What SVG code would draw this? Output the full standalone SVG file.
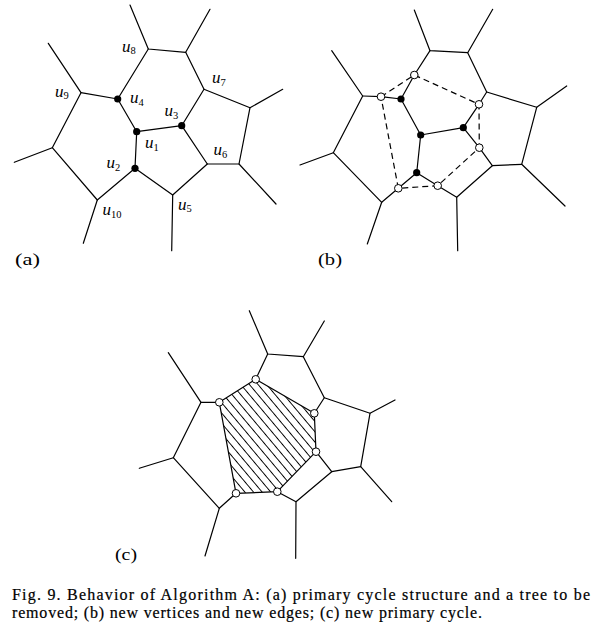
<svg xmlns="http://www.w3.org/2000/svg" width="595" height="634" viewBox="0 0 595 634">
<style>
.e{stroke:#000;stroke-width:1.2;fill:none;stroke-linecap:round;stroke-linejoin:round}
.d{stroke-dasharray:6 4;stroke-linecap:butt}
.bk{fill:#000}
.wh{fill:#fff;stroke:#000;stroke-width:1}
.lb{font-family:"Liberation Serif",serif;font-style:italic;font-size:17px;fill:#000}
.sb{font-style:normal;font-size:10.5px}
.pl{font-family:"Liberation Serif",serif;font-size:16px;fill:#000}
.cap{font-family:"Liberation Serif",serif;font-size:16px;fill:#000;stroke:#000;stroke-width:0.2}
</style>
<defs>
<pattern id="hatch" patternUnits="userSpaceOnUse" width="6.6" height="6.6" patternTransform="rotate(50)">
<line x1="-1" y1="3.3" x2="8" y2="3.3" stroke="#000" stroke-width="1"/>
</pattern>
</defs>
<rect width="595" height="634" fill="#fff"/>

<!-- Panel (a) -->
<g id="panel-a">
<g id="a-connectors">
<path class="e" d="M130,5 L148.3,49 L185.7,52.3 L210,9.3"/>
<path class="e" d="M148.3,49 L117.7,99 L136.7,131.7 L181.7,125.7 L204,89.3 L185.7,52.3"/>
<path class="e" d="M204,89.3 L250,107.7 L282.7,89.3"/>
<path class="e" d="M250,107.7 L239,164 L276,204"/>
<path class="e" d="M239,164 L207.3,164 L181.7,125.7"/>
<path class="e" d="M207.3,164 L172.7,195 L171.7,250.7"/>
<path class="e" d="M172.7,195 L135,168.3 L136.7,131.7"/>
<path class="e" d="M135,168.3 L97.3,200 L83.3,243.3"/>
<path class="e" d="M97.3,200 L52.3,147.7 L14.3,162.3"/>
<path class="e" d="M52.3,147.7 L81,92.7 L48.3,43.3"/>
<path class="e" d="M81,92.7 L117.7,99"/>
</g>
<g id="a-u4"><circle class="bk" cx="117.7" cy="99" r="3.6"/><text class="lb" x="130" y="103">u<tspan class="sb" dy="2.5">4</tspan></text></g>
<g id="a-u1"><circle class="bk" cx="136.7" cy="131.7" r="3.6"/><text class="lb" x="145" y="148">u<tspan class="sb" dy="2.5">1</tspan></text></g>
<g id="a-u3"><circle class="bk" cx="181.7" cy="125.7" r="3.6"/><text class="lb" x="164.5" y="116">u<tspan class="sb" dy="2.5">3</tspan></text></g>
<g id="a-u2"><circle class="bk" cx="135" cy="168.3" r="3.6"/><text class="lb" x="106.5" y="168">u<tspan class="sb" dy="2.5">2</tspan></text></g>
<g id="a-u5"><text class="lb" x="178" y="209.5">u<tspan class="sb" dy="2.5">5</tspan></text></g>
<g id="a-u6"><text class="lb" x="213.5" y="155">u<tspan class="sb" dy="2.5">6</tspan></text></g>
<g id="a-u7"><text class="lb" x="212" y="83">u<tspan class="sb" dy="2.5">7</tspan></text></g>
<g id="a-u8"><text class="lb" x="122" y="51.5">u<tspan class="sb" dy="2.5">8</tspan></text></g>
<g id="a-u9"><text class="lb" x="55" y="96.5">u<tspan class="sb" dy="2.5">9</tspan></text></g>
<g id="a-u10"><text class="lb" x="102.5" y="215">u<tspan class="sb" dy="2.5">10</tspan></text></g>
<text class="pl" x="15" y="265" textLength="25" lengthAdjust="spacingAndGlyphs">(a)</text>
</g>

<!-- Panel (b) -->
<g id="panel-b">
<g id="b-connectors">
<path class="e" d="M414.3,10 L430,50.7 L467.7,52.7 L492.7,9.3"/>
<path class="e" d="M430,50.7 L414.3,75 L401,99 L420.7,135 L463.3,127.7 L479,104.3 L486.7,92 L467.7,52.7"/>
<path class="e" d="M486.7,92 L536.7,107.3 L566.7,86"/>
<path class="e" d="M536.7,107.3 L521.7,164.3 L565,206"/>
<path class="e" d="M521.7,164.3 L492.3,165.7 L479.3,147.7 L463.3,127.7"/>
<path class="e" d="M492.3,165.7 L456.7,197.3 L457.7,250.7"/>
<path class="e" d="M456.7,197.3 L437.7,185.7 L416.7,172.7 L420.7,135"/>
<path class="e" d="M416.7,172.7 L398.3,188.3 L381.7,202.3 L367.3,244"/>
<path class="e" d="M381.7,202.3 L333.3,152.7 L300,165"/>
<path class="e" d="M333.3,152.7 L362.7,96 L331.7,50.7"/>
<path class="e" d="M362.7,96 L381,96.7 L401,99"/>
<path class="e d" d="M381,96.7 L414.3,75 L479,104.3 L479.3,147.7 L437.7,185.7 L398.3,188.3 Z"/>
</g>
<g id="b-u4"><circle class="bk" cx="401" cy="99" r="3.6"/></g>
<g id="b-u1"><circle class="bk" cx="420.7" cy="135" r="3.6"/></g>
<g id="b-u3"><circle class="bk" cx="463.3" cy="127.7" r="3.6"/></g>
<g id="b-u2"><circle class="bk" cx="416.7" cy="172.7" r="3.6"/></g>
<g id="b-w1"><circle class="wh" cx="381" cy="96.7" r="3.8"/></g>
<g id="b-w2"><circle class="wh" cx="414.3" cy="75" r="3.8"/></g>
<g id="b-w3"><circle class="wh" cx="479" cy="104.3" r="3.8"/></g>
<g id="b-w4"><circle class="wh" cx="479.3" cy="147.7" r="3.8"/></g>
<g id="b-w5"><circle class="wh" cx="437.7" cy="185.7" r="3.8"/></g>
<g id="b-w6"><circle class="wh" cx="398.3" cy="188.3" r="3.8"/></g>
<text class="pl" x="318" y="265" textLength="24" lengthAdjust="spacingAndGlyphs">(b)</text>
</g>

<!-- Panel (c) -->
<g id="panel-c">
<g id="c-connectors">
<polygon points="219.3,402.3 255.7,379.3 314.3,413.3 316,451.7 277.3,491.7 236,493.3" fill="url(#hatch)" stroke="#000" stroke-width="1.2" stroke-linejoin="round"/>
<path class="e" d="M249.3,310.7 L267.7,354 L303.3,356.7 L324.3,321"/>
<path class="e" d="M267.7,354 L255.7,379.3"/>
<path class="e" d="M303.3,356.7 L324.3,397.7 L314.3,413.3"/>
<path class="e" d="M324.3,397.7 L370,413.3 L395,400"/>
<path class="e" d="M370,413.3 L360.7,466.7 L391.7,501.7"/>
<path class="e" d="M360.7,466.7 L331.7,471.7 L316,451.7"/>
<path class="e" d="M331.7,471.7 L296,501.7 L295.7,558.3"/>
<path class="e" d="M296,501.7 L277.3,491.7"/>
<path class="e" d="M236,493.3 L219.3,508.3 L205,556"/>
<path class="e" d="M219.3,508.3 L173.3,457.7 L139.3,468.3"/>
<path class="e" d="M173.3,457.7 L201,402.3 L168.3,352.7"/>
<path class="e" d="M201,402.3 L219.3,402.3"/>
</g>
<g id="c-v1"><circle class="wh" cx="219.3" cy="402.3" r="3.8"/></g>
<g id="c-v2"><circle class="wh" cx="255.7" cy="379.3" r="3.8"/></g>
<g id="c-v3"><circle class="wh" cx="314.3" cy="413.3" r="3.8"/></g>
<g id="c-v4"><circle class="wh" cx="316" cy="451.7" r="3.8"/></g>
<g id="c-v5"><circle class="wh" cx="277.3" cy="491.7" r="3.8"/></g>
<g id="c-v6"><circle class="wh" cx="236" cy="493.3" r="3.8"/></g>
<text class="pl" x="115" y="560" textLength="22" lengthAdjust="spacingAndGlyphs">(c)</text>
</g>

<g id="caption">
<text class="cap" x="12" y="600" textLength="578" lengthAdjust="spacing">Fig. 9. Behavior of Algorithm A: (a) primary cycle structure and a tree to be</text>
<text class="cap" x="12" y="618" textLength="470" lengthAdjust="spacing">removed; (b) new vertices and new edges; (c) new primary cycle.</text>
</g>
</svg>
